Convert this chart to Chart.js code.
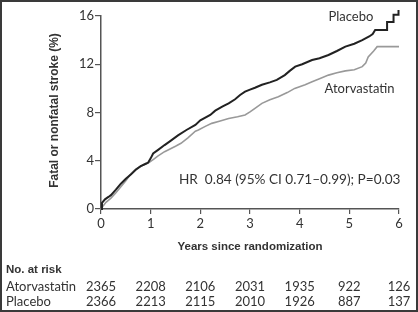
<!DOCTYPE html>
<html>
<head>
<meta charset="utf-8">
<script src="https://cdn.jsdelivr.net/npm/chart.js@4.4.1/dist/chart.umd.min.js"></script>
<style>
  html, body { margin: 0; padding: 0; background: #fff; }
  #wrap { width: 418px; height: 312px; position: relative; }
</style>
</head>
<body>
<div id="wrap"><canvas id="kmChart" width="418" height="312"></canvas></div>
<script>
// Kaplan-Meier curves (years, cumulative %)
// the steps at the right end are kept as explicit corner points
const placeboYears = [0, 0.02, 0.08, 0.15, 0.2, 0.3, 0.4, 0.5, 0.6, 0.7, 0.8, 0.9, 0.95, 1.0, 1.05, 1.15, 1.28, 1.4, 1.55, 1.72, 1.9, 2.0, 2.2, 2.3, 2.45, 2.57, 2.7, 2.8, 2.9, 3.0, 3.1, 3.24, 3.4, 3.54, 3.7, 3.8, 3.91, 4.05, 4.25, 4.4, 4.58, 4.75, 4.92, 5.1, 5.26, 5.4, 5.47, 5.52, 5.76, 5.76, 5.89, 5.89, 5.99, 5.99];
const placeboPct   = [0, 0.5, 0.8, 1.0, 1.15, 1.6, 2.1, 2.5, 2.85, 3.25, 3.55, 3.75, 3.85, 4.2, 4.6, 4.9, 5.3, 5.65, 6.1, 6.55, 6.97, 7.35, 7.8, 8.15, 8.5, 8.76, 9.1, 9.45, 9.73, 9.9, 10.05, 10.3, 10.5, 10.7, 11.1, 11.45, 11.8, 12.0, 12.35, 12.5, 12.77, 13.1, 13.46, 13.7, 14.0, 14.3, 14.5, 14.84, 14.84, 15.5, 15.5, 16.1, 16.1, 16.5];

const atorYears = [0, 0.05, 0.1, 0.2, 0.3, 0.4, 0.5, 0.61, 0.7, 0.8, 0.95, 1.05, 1.15, 1.28, 1.4, 1.5, 1.61, 1.75, 1.9, 1.96, 2.1, 2.23, 2.4, 2.57, 2.75, 2.9, 3.0, 3.1, 3.24, 3.4, 3.57, 3.75, 3.9, 4.11, 4.25, 4.4, 4.58, 4.75, 4.92, 5.1, 5.26, 5.33, 5.38, 5.49, 5.56, 6.0];
const atorPct   = [0, 0.3, 0.55, 0.9, 1.35, 1.85, 2.35, 2.96, 3.3, 3.55, 3.8, 4.1, 4.4, 4.75, 5.0, 5.2, 5.45, 5.9, 6.45, 6.55, 6.85, 7.1, 7.3, 7.5, 7.65, 7.8, 8.05, 8.35, 8.76, 9.05, 9.3, 9.65, 10.0, 10.3, 10.55, 10.8, 11.1, 11.3, 11.45, 11.55, 11.8, 12.1, 12.6, 13.1, 13.46, 13.46];

// number at risk table
const riskYears   = [0, 1, 2, 3, 4, 5, 6];
const riskAtor    = [2365, 2208, 2106, 2031, 1935, 922, 126];
const riskPlacebo = [2366, 2213, 2115, 2010, 1926, 887, 137];

const hrText = 'HR  0.84 (95% CI 0.71\u20130.99); P=0.03';

const numFont = '"Lato", "Open Sans", sans-serif';
const boldFont = '"Liberation Sans", Arial, sans-serif';
const inkColor = '#333';

function toPoints(xs, ys) {
  return xs.map((x, i) => ({ x: x, y: ys[i] }));
}

const textPlugin = {
  id: 'kmText',
  afterDraw(chart) {
    const ctx = chart.ctx;
    const xs = chart.scales.x;
    const ys = chart.scales.y;
    ctx.save();
    ctx.fillStyle = inkColor;

    // y axis title
    ctx.font = 'bold 12px ' + boldFont;
    ctx.textAlign = 'center';
    ctx.textBaseline = 'middle';
    ctx.save();
    ctx.translate(55, (ys.top + ys.bottom) / 2 - 2);
    ctx.rotate(-Math.PI / 2);
    ctx.fillText('Fatal or nonfatal stroke (%)', 0, 0);
    ctx.restore();

    // x axis title
    ctx.font = 'bold 11.5px ' + boldFont;
    ctx.fillText('Years since randomization', (xs.left + xs.right) / 2, 247);

    // curve labels
    ctx.font = '13px ' + numFont;
    ctx.textAlign = 'left';
    ctx.fillText('Placebo', xs.getPixelForValue(4.58), ys.getPixelForValue(15.95));
    ctx.fillText('Atorvastatin', xs.getPixelForValue(4.5), ys.getPixelForValue(9.95));
    ctx.font = '13.6px ' + numFont;
    ctx.fillText(hrText, xs.getPixelForValue(1.57), ys.getPixelForValue(2.4));

    // no. at risk
    ctx.font = 'bold 11.5px ' + boldFont;
    ctx.fillText('No. at risk', 6, 270);
    ctx.font = '13px ' + numFont;
    ctx.fillText('Atorvastatin', 6, 287);
    ctx.fillText('Placebo', 6, 302);
    ctx.textAlign = 'center';
    riskYears.forEach((yr, i) => {
      const px = xs.getPixelForValue(yr);
      ctx.fillText(String(riskAtor[i]), px, 287);
      ctx.fillText(String(riskPlacebo[i]), px, 302);
    });

    // frame
    ctx.strokeStyle = '#3a3a3a';
    ctx.lineWidth = 2;
    ctx.strokeRect(1, 1, chart.width - 2, chart.height - 2);
    ctx.restore();
  }
};

const ctx = document.getElementById('kmChart').getContext('2d');
new Chart(ctx, {
  type: 'line',
  data: {
    datasets: [
      {
        label: 'Placebo',
        data: toPoints(placeboYears, placeboPct),
        borderColor: '#222',
        borderWidth: 2,
        tension: 0,
        pointRadius: 0,
        fill: false,
        clip: false
      },
      {
        label: 'Atorvastatin',
        data: toPoints(atorYears, atorPct),
        borderColor: '#999',
        borderWidth: 1.6,
        tension: 0,
        pointRadius: 0,
        fill: false,
        clip: false
      }
    ]
  },
  options: {
    responsive: false,
    animation: false,
    events: [],
    layout: { padding: { left: 0, right: 19, top: 16, bottom: 0 } },
    plugins: {
      legend: { display: false },
      tooltip: { enabled: false }
    },
    scales: {
      x: {
        type: 'linear',
        min: 0,
        max: 6,
        afterFit(scale) { scale.height = 103; },
        grid: { drawOnChartArea: false, drawTicks: true, tickLength: 5, color: '#555', lineWidth: 1.2 },
        border: { color: '#555', width: 1.5 },
        ticks: { stepSize: 1, padding: 2, color: inkColor, font: { family: numFont, size: 13 } }
      },
      y: {
        min: 0,
        max: 16,
        afterFit(scale) { scale.width = 101; },
        grid: { drawOnChartArea: false, drawTicks: true, tickLength: 6, color: '#555', lineWidth: 1.2 },
        border: { color: '#555', width: 1.5 },
        ticks: { stepSize: 4, padding: 1, color: inkColor, font: { family: numFont, size: 13 } }
      }
    }
  },
  plugins: [textPlugin]
});
</script>
</body>
</html>
